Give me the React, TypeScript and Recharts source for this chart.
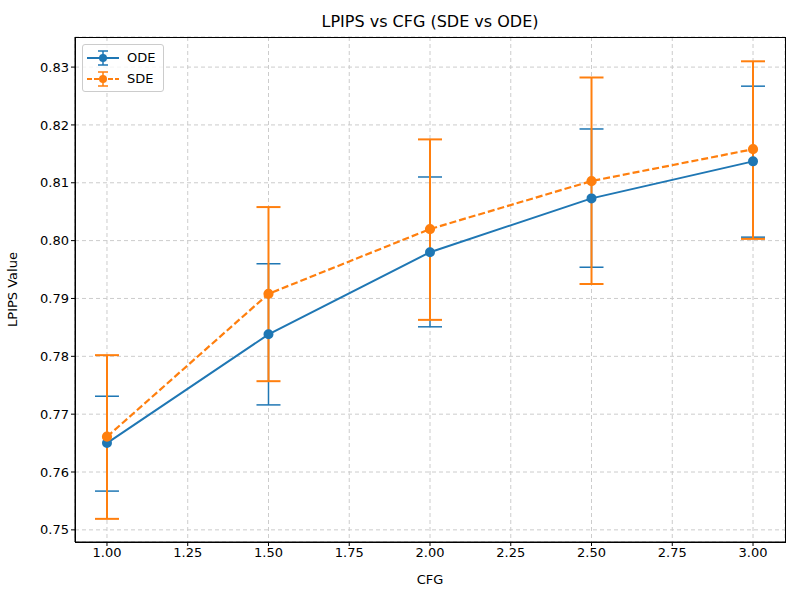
import { LineChart, Line, XAxis, YAxis, CartesianGrid, ErrorBar, Label } from 'recharts';

const cfg = [1.0, 1.5, 2.0, 2.5, 3.0];
const odeMean = [0.765, 0.7838, 0.798, 0.8073, 0.8137];
const odeLow = [0.7567, 0.7716, 0.7851, 0.7954, 0.8006];
const odeHigh = [0.7731, 0.796, 0.811, 0.8193, 0.8267];
const sdeMean = [0.7661, 0.7908, 0.802, 0.8103, 0.8158];
const sdeLow = [0.7519, 0.7757, 0.7863, 0.7925, 0.8003];
const sdeHigh = [0.7802, 0.8058, 0.8175, 0.8282, 0.831];
const xTicks = [1.0, 1.25, 1.5, 1.75, 2.0, 2.25, 2.5, 2.75, 3.0];
const yTicks = [0.75, 0.76, 0.77, 0.78, 0.79, 0.8, 0.81, 0.82, 0.83];

const BLUE = '#1f77b4';
const ORANGE = '#ff7f0e';

const data = cfg.map((x, i) => ({
  x,
  ode: odeMean[i],
  odeErr: [odeMean[i] - odeLow[i], odeHigh[i] - odeMean[i]],
  sde: sdeMean[i],
  sdeErr: [sdeMean[i] - sdeLow[i], sdeHigh[i] - sdeMean[i]],
}));

const tick = { fontSize: 13, fill: '#000' };

function LegendRow({ color, dash, label }: { color: string; dash?: string; label: string }) {
  return (
    <div style={{ display: 'flex', alignItems: 'center', height: 21 }}>
      <svg width={36} height={20}>
        <line x1={2} y1={10} x2={34} y2={10} stroke={color} strokeWidth={2} strokeDasharray={dash} />
        <line x1={18} y1={3} x2={18} y2={17} stroke={color} strokeWidth={1.5} />
        <line x1={13} y1={3} x2={23} y2={3} stroke={color} strokeWidth={1.5} />
        <line x1={13} y1={17} x2={23} y2={17} stroke={color} strokeWidth={1.5} />
        <circle cx={18} cy={10} r={4} fill={color} />
      </svg>
      <span style={{ marginLeft: 6 }}>{label}</span>
    </div>
  );
}

export default function App() {
  return (
    <div style={{ position: 'absolute', left: 0, top: 0, width: 800, height: 600, background: '#fff', fontFamily: 'DejaVu Sans' }}>
      <div style={{ position: 'absolute', top: 12, left: 75, width: 710, textAlign: 'center', fontSize: 16 }}>
        LPIPS vs CFG (SDE vs ODE)
      </div>
      <LineChart width={800} height={600} data={data} margin={{ top: 37, right: 15, bottom: 0, left: 0 }}>
        <CartesianGrid stroke="#cccccc" strokeDasharray="4 3" />
        <XAxis
          dataKey="x"
          type="number"
          domain={[0.901, 3.099]}
          ticks={xTicks}
          tickFormatter={(v: number) => v.toFixed(2)}
          tick={tick}
          height={58}
          stroke="#000"
          tickSize={4}
        >
          <Label value="CFG" position="insideBottom" offset={16} style={{ fontSize: 13, fill: '#000' }} />
        </XAxis>
        <YAxis
          type="number"
          domain={[0.7479, 0.8352]}
          ticks={yTicks}
          tickFormatter={(v: number) => v.toFixed(2)}
          tick={tick}
          width={75}
          stroke="#000"
          tickSize={4}
          allowDataOverflow
        >
          <Label value="LPIPS Value" angle={-90} position="insideLeft" offset={12} style={{ fontSize: 13, fill: '#000', textAnchor: 'middle' }} />
        </YAxis>
        <Line dataKey="ode" stroke={BLUE} strokeWidth={2} dot={{ r: 4, fill: BLUE, stroke: BLUE }} isAnimationActive={false}>
          <ErrorBar dataKey="odeErr" direction="y" stroke={BLUE} strokeWidth={1.5} width={12} />
        </Line>
        <Line dataKey="sde" stroke={ORANGE} strokeWidth={2.2} strokeDasharray="7 3" dot={{ r: 4, fill: ORANGE, stroke: ORANGE, strokeDasharray: '' }} isAnimationActive={false}>
          <ErrorBar dataKey="sdeErr" direction="y" stroke={ORANGE} strokeWidth={2} width={12} />
        </Line>
      </LineChart>
      <div style={{ position: 'absolute', left: 75, top: 37, width: 709, height: 504, border: '1px solid #000', pointerEvents: 'none' }} />
      <div style={{ position: 'absolute', left: 82, top: 44, padding: '2px 8px 2px 2px', border: '1px solid #ccc', borderRadius: 3, background: 'rgba(255,255,255,0.8)', fontSize: 13 }}>
        <LegendRow color={BLUE} label="ODE" />
        <LegendRow color={ORANGE} dash="5 2" label="SDE" />
      </div>
    </div>
  );
}
